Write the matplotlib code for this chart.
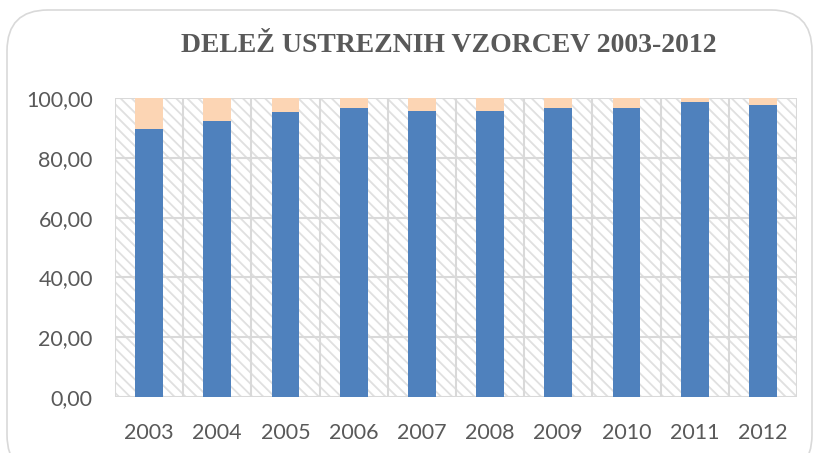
import matplotlib
matplotlib.use("Agg")
import matplotlib.pyplot as plt
from matplotlib.patches import FancyBboxPatch, Rectangle

years = ["2003", "2004", "2005", "2006", "2007", "2008", "2009", "2010", "2011", "2012"]
ustrezni = [89.7, 92.4, 95.3, 96.7, 95.7, 95.7, 96.7, 96.7, 98.8, 97.7]
neustrezni = [100 - v for v in ustrezni]
yticks = [0, 20, 40, 60, 80, 100]
ytick_labels = ["0,00", "20,00", "40,00", "60,00", "80,00", "100,00"]

plt.rcParams['hatch.color'] = '#e0e0e0'
plt.rcParams['hatch.linewidth'] = 1.3

fig = plt.figure(figsize=(8.18, 4.53), dpi=100)
fig.patch.set_facecolor('white')

# rounded outer border
border = FancyBboxPatch((7/818, -0.05), (812-7)/818, (453-10)/453 + 0.05,
                        boxstyle="round,pad=0,rounding_size=0.05",
                        transform=fig.transFigure, facecolor='none',
                        edgecolor='#d9d9d9', linewidth=1.2, mutation_aspect=818/453,
                        zorder=-5)
fig.patches.append(border)

left, right = 115/818, 797/818
bottom, top = 1 - 397/453, 1 - 98/453
ax = fig.add_axes([left, bottom, right - left, top - bottom])
ax.set_facecolor('white')

# hatched background
bg = Rectangle((0, 0), 1, 1, transform=ax.transAxes, facecolor='white',
               edgecolor='#e0e0e0', hatch='\\\\\\', linewidth=0, zorder=0)
ax.add_patch(bg)

x = list(range(len(years)))
ax.bar(x, ustrezni, width=0.405, color='#4f81bd', zorder=3)
ax.bar(x, neustrezni, bottom=ustrezni, width=0.405, color='#fcd5b4', zorder=3)

ax.set_xlim(-0.5, len(years) - 0.5)
ax.set_ylim(0, 100)
ax.set_yticks(yticks)
ax.set_yticklabels(ytick_labels)
ax.set_xticks(x)
ax.set_xticklabels(years)

# gridlines
for yv in yticks:
    ax.axhline(yv, color='#d9d9d9', lw=1.5, zorder=1)
for i in range(len(years) + 1):
    ax.axvline(i - 0.5, color='#d9d9d9', lw=1.5, zorder=1)

for s in ax.spines.values():
    s.set_visible(False)
ax.tick_params(axis='both', length=0, colors='#595959', labelsize=15.5)
ax.tick_params(axis='x', pad=19)
ax.tick_params(axis='y', pad=16)
for lab in ax.get_xticklabels() + ax.get_yticklabels():
    lab.set_fontfamily('Lato')
    lab.set_color('#595959')

fig.text(449/818, 1 - 45/453, "DELEŽ USTREZNIH VZORCEV 2003-2012",
         ha='center', va='center', fontsize=20, fontweight='bold',
         family='Liberation Serif', color='#595959')

fig.savefig("out.png", dpi=100)
